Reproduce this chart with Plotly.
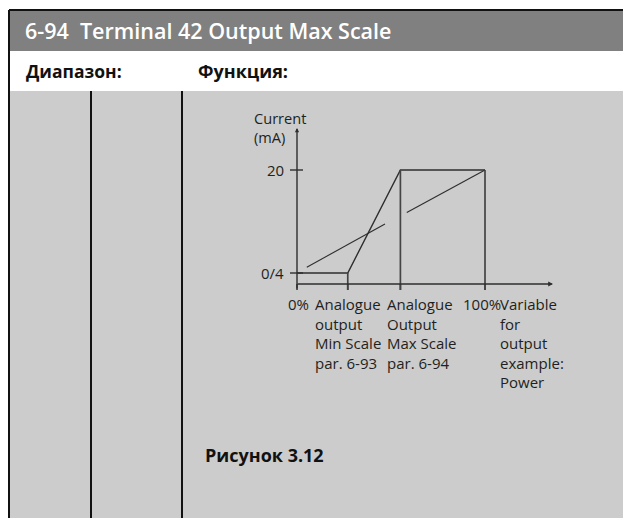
import plotly.graph_objects as go

# ---------------- data ----------------
# x positions in % of the output variable; y in mA
tick_pos = [0, 27, 55, 100]                 # 0%, Min Scale, Max Scale, 100%
out_x = [0, 27, 55, 100]                    # output curve
out_y = [4, 4, 20, 20]
ref1_x = [5.2, 46.8]                        # broken reference slope, part 1
ref1_y = [4.9, 11.6]
ref2_x = [58.4, 100]                        # part 2
ref2_y = [13.4, 20]
ytick_vals = [4, 20]
ytick_text = ["0/4", "20"]
ylabel_text = "Current<br>(mA)"
xlabel_text = [
    "0%",
    "Analogue<br>output<br>Min Scale<br>par. 6-93",
    "Analogue<br>Output<br>Max Scale<br>par. 6-94",
    "100%",
    "Variable<br>for<br>output<br>example:<br>Power",
]
header_title = "6-94\u00a0\u00a0Terminal 42 Output Max Scale"
col1_title = "Диапазон:"
col2_title = "Функция:"
caption = "Рисунок 3.12"

W, H = 623, 518
# pixel -> data mapping for the embedded diagram
X0PX, XSC = 297.0, 1.88        # px of x=0, px per %
Y4PX, YSC = 273.0, 6.4375      # px of y=4 mA, px per mA


def dx(p):
    return (p - X0PX) / XSC


def dy(p):
    return 4 + (Y4PX - p) / YSC


def px(x):
    return x / W


def py(y):
    return 1 - y / H


AX_Y = dy(284)       # x-axis level
TICK_BOT = dy(290)   # bottom of tick marks
Y_TOP = dy(128)      # top of y arrow
X_END = dx(553)      # end of x arrow

LINE = "#2e2e2e"
TXT = "#231f20"
FONT = "Open Sans"

fig = go.Figure()

# output curve
fig.add_trace(go.Scatter(x=out_x, y=out_y, mode="lines",
                         line=dict(color=LINE, width=1.4), hoverinfo="skip"))
# reference slope pieces
for rx, ry in ((ref1_x, ref1_y), (ref2_x, ref2_y)):
    fig.add_trace(go.Scatter(x=rx, y=ry, mode="lines",
                             line=dict(color=LINE, width=1.1), hoverinfo="skip"))
# drop lines from curve corners to x axis (through tick marks)
for xv, yv in zip(out_x[1:], out_y[1:]):
    fig.add_trace(go.Scatter(x=[xv, xv], y=[yv, TICK_BOT], mode="lines",
                             line=dict(color="#444", width=1.7), hoverinfo="skip"))

shapes = []
# page decoration
shapes.append(dict(type="rect", xref="paper", yref="paper", x0=px(9), x1=1.0,
                   y0=py(51), y1=py(11), fillcolor="#808080", line=dict(width=0), layer="below"))
shapes.append(dict(type="rect", xref="paper", yref="paper", x0=px(9), x1=1.0,
                   y0=0, y1=py(91), fillcolor="#cccccc", line=dict(width=0), layer="below"))
shapes.append(dict(type="line", xref="paper", yref="paper", x0=px(9), x1=1.0,
                   y0=py(10), y1=py(10), line=dict(color="#111", width=2)))
shapes.append(dict(type="line", xref="paper", yref="paper", x0=px(9), x1=px(9),
                   y0=0, y1=py(10), line=dict(color="#111", width=2)))
for cx in (91, 182):
    shapes.append(dict(type="line", xref="paper", yref="paper", x0=px(cx), x1=px(cx),
                       y0=0, y1=py(91), line=dict(color="#111", width=2)))

# y tick marks
for v in ytick_vals:
    shapes.append(dict(type="line", xref="x", yref="y", x0=dx(290), x1=dx(303),
                       y0=v, y1=v, line=dict(color=LINE, width=1.4)))
# x tick marks
for v in tick_pos:
    shapes.append(dict(type="line", xref="x", yref="y", x0=v, x1=v,
                       y0=AX_Y, y1=TICK_BOT, line=dict(color="#444", width=1.7)))

annotations = []
# axes with arrows
annotations.append(dict(x=0, y=Y_TOP, ax=0, ay=TICK_BOT, xref="x", yref="y",
                        axref="x", ayref="y", showarrow=True, arrowhead=2,
                        arrowsize=0.6, arrowwidth=1.4, arrowcolor=LINE, text=""))
annotations.append(dict(x=X_END, y=AX_Y, ax=dx(296), ay=AX_Y, xref="x", yref="y",
                        axref="x", ayref="y", showarrow=True, arrowhead=2,
                        arrowsize=0.6, arrowwidth=1.6, arrowcolor=LINE, text=""))

lab_font = dict(family=FONT, size=15, color=TXT)
# y labels
for v, t in zip(ytick_vals, ytick_text):
    annotations.append(dict(x=dx(286), y=v, xref="x", yref="y", text=t, showarrow=False,
                            xanchor="right", yanchor="middle", font=lab_font))
annotations.append(dict(x=dx(252), y=dy(127), xref="x", yref="y", text=ylabel_text,
                        showarrow=False, xanchor="left", yanchor="middle", align="left",
                        font=dict(family=FONT, size=14.6, color=TXT)))
# x labels
xl_left = [dx(286), dx(313), dx(385), dx(461), dx(498)]
for xv, t in zip(xl_left, xlabel_text):
    annotations.append(dict(x=xv, y=dy(292), xref="x", yref="y", text=t, showarrow=False,
                            xanchor="left", yanchor="top", align="left", font=lab_font))

# page texts
annotations.append(dict(x=px(23), y=py(31), xref="paper", yref="paper", text=header_title,
                        showarrow=False, xanchor="left", yanchor="middle",
                        font=dict(family=FONT, size=21.5, color="white", weight=600)))
annotations.append(dict(x=px(24), y=py(71), xref="paper", yref="paper", text=col1_title,
                        showarrow=False, xanchor="left", yanchor="middle",
                        font=dict(family=FONT, size=17.5, color="#111", weight=700)))
annotations.append(dict(x=px(196), y=py(71), xref="paper", yref="paper", text=col2_title,
                        showarrow=False, xanchor="left", yanchor="middle",
                        font=dict(family=FONT, size=18, color="#111", weight=700)))
annotations.append(dict(x=px(203), y=py(455), xref="paper", yref="paper", text=caption,
                        showarrow=False, xanchor="left", yanchor="middle",
                        font=dict(family=FONT, size=18, color="#111", weight=700)))

fig.update_layout(
    width=W, height=H, margin=dict(l=0, r=0, t=0, b=0),
    paper_bgcolor="white", plot_bgcolor="rgba(0,0,0,0)",
    showlegend=False,
    xaxis=dict(range=[dx(0), dx(W)], visible=False, fixedrange=True),
    yaxis=dict(range=[dy(H), dy(0)], visible=False, fixedrange=True),
    shapes=shapes, annotations=annotations,
)

fig.write_html(
    "out.html",
    config={"displayModeBar": False},
    post_script="document.body.style.margin='0';document.body.style.padding='0';"
                "document.documentElement.style.overflow='hidden';",
)
